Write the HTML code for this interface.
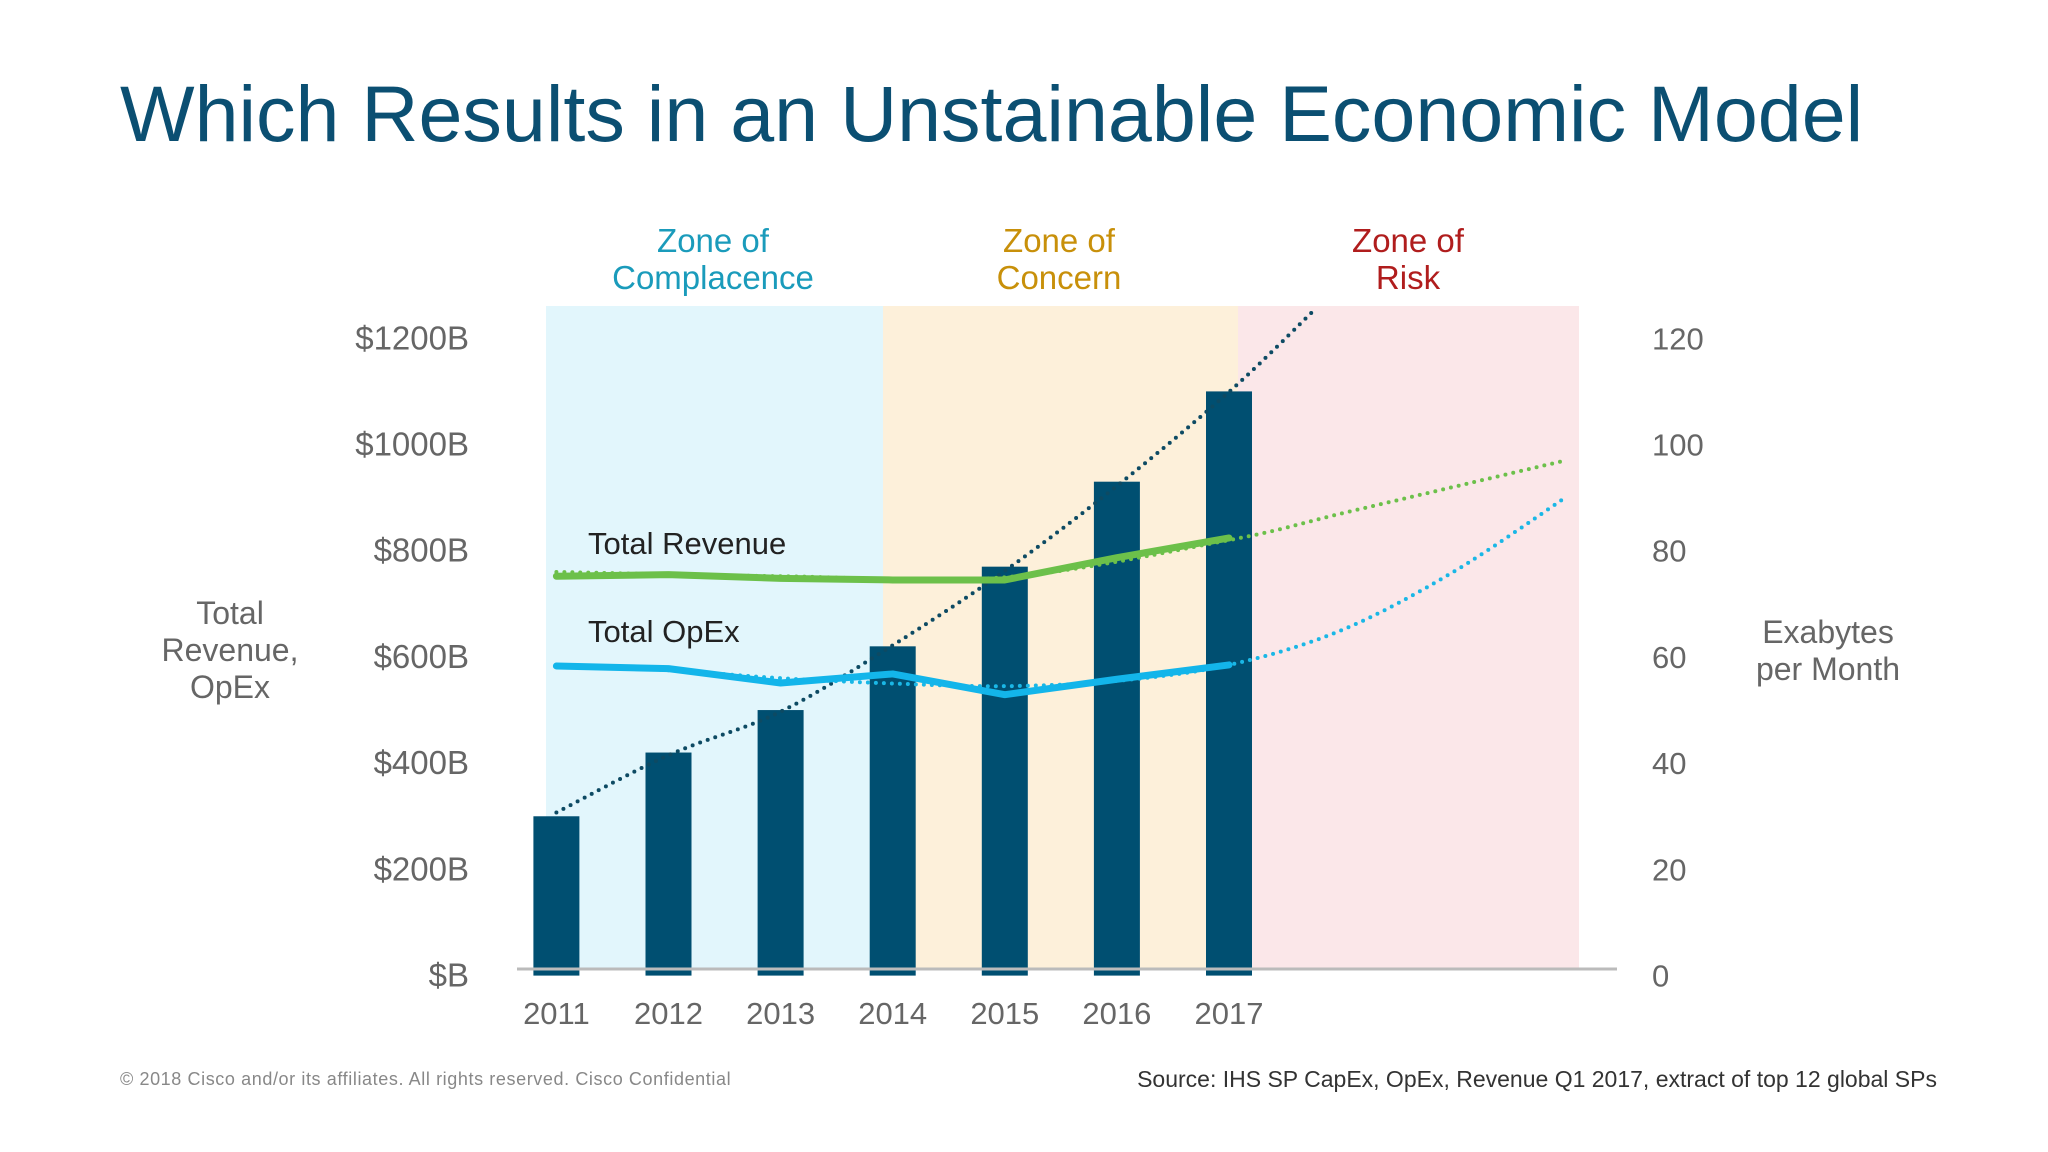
<!DOCTYPE html>
<html><head><meta charset="utf-8"><style>
html,body{margin:0;padding:0;background:#fff}
svg{display:block}
</style></head><body>
<svg id="chart" width="2048" height="1152" viewBox="0 0 2048 1152" xmlns="http://www.w3.org/2000/svg" font-family="Liberation Sans, Arial, sans-serif">
<rect x="0" y="0" width="2048" height="1152" fill="#fff"/>
<text x="120" y="141" font-size="79" fill="#0b4f72">Which Results in an Unstainable Economic Model</text>
<rect x="546" y="306" width="337" height="663" fill="#e2f6fc"/>
<rect x="883" y="306" width="355" height="663" fill="#fdf0da"/>
<rect x="1238" y="306" width="341" height="663" fill="#fbe7e9"/>
<g font-size="33" text-anchor="middle">
<text x="713" y="252" fill="#1a9bbb"><tspan x="713">Zone of</tspan><tspan x="713" dy="37">Complacence</tspan></text>
<text x="1059" y="252" fill="#c8900a"><tspan x="1059">Zone of</tspan><tspan x="1059" dy="37">Concern</tspan></text>
<text x="1408" y="252" fill="#b01d1d"><tspan x="1408">Zone of</tspan><tspan x="1408" dy="37">Risk</tspan></text>
</g>
<g font-size="32" fill="#666" text-anchor="middle">
<text x="230" y="624"><tspan x="230">Total</tspan><tspan x="230" dy="37">Revenue,</tspan><tspan x="230" dy="37">OpEx</tspan></text>
<text x="1828" y="643"><tspan x="1828">Exabytes</tspan><tspan x="1828" dy="37">per Month</tspan></text>
</g>
<g id="plot"></g>
<text x="588" y="554" font-size="31" fill="#222">Total Revenue</text>
<text x="588" y="642" font-size="31" fill="#222">Total OpEx</text>
<text x="120" y="1085" font-size="18" letter-spacing="0.6" fill="#888">© 2018  Cisco and/or its affiliates. All rights reserved.   Cisco Confidential</text>
<text x="1937" y="1087" font-size="23" fill="#333" text-anchor="end">Source: IHS SP CapEx, OpEx, Revenue Q1 2017, extract of top 12 global SPs</text>
</svg>
<script>
const years = [2011, 2012, 2013, 2014, 2015, 2016, 2017];
const trafficBars = [300, 420, 500, 620, 770, 930, 1100];
const revenue = [752, 755, 748, 745, 745, 787, 824];
const opex = [583, 578, 551, 568, 529, 558, 585];
const revenueTrendYears = [2011, 2013, 2015, 2017, 2018, 2019, 2020];
const revenueTrend = [760, 752, 750, 820, 870, 920, 970];
const opexTrendYears = [2011, 2012, 2013, 2014, 2015, 2016, 2017, 2018, 2019, 2020];
const opexTrend = [585, 575, 560, 550, 545, 555, 585, 650, 760, 900];
const trafficTrendYears = [2011, 2012, 2013, 2014, 2015, 2016, 2017, 2017.75];
const trafficTrend = [307, 415, 497, 622, 762, 922, 1099, 1251];
const leftTicks = ["$B", "$200B", "$400B", "$600B", "$800B", "$1000B", "$1200B"];
const rightTicks = ["0", "20", "40", "60", "80", "100", "120"];

const NS = "http://www.w3.org/2000/svg";
const plot = document.getElementById('plot');
const X = yr => 556.4 + (yr - 2011) * 112.1;
const Y = v => 975.6 - v * (975.6 - 338.3) / 1200;
function mk(tag, attrs) { const e = document.createElementNS(NS, tag); for (const k in attrs) e.setAttribute(k, attrs[k]); plot.appendChild(e); return e; }
function smooth(xs, vs) {
  const p = xs.map((x, i) => [X(x), Y(vs[i])]);
  let d = `M${p[0][0]},${p[0][1]}`;
  for (let i = 0; i < p.length - 1; i++) {
    const p0 = p[i - 1] || p[i], p1 = p[i], p2 = p[i + 1], p3 = p[i + 2] || p2;
    const c1 = [p1[0] + (p2[0] - p0[0]) / 6, p1[1] + (p2[1] - p0[1]) / 6];
    const c2 = [p2[0] - (p3[0] - p1[0]) / 6, p2[1] - (p3[1] - p1[1]) / 6];
    d += ` C${c1[0]},${c1[1]} ${c2[0]},${c2[1]} ${p2[0]},${p2[1]}`;
  }
  return d;
}
function poly(xs, vs) { return xs.map((x, i) => (i ? 'L' : 'M') + X(x) + ',' + Y(vs[i])).join(' '); }

leftTicks.forEach((t, i) => {
  const e = mk('text', { x: 469, y: Y(i * 200) + 11, 'font-size': 33, fill: '#666', 'text-anchor': 'end' });
  e.textContent = t;
  
  
});
rightTicks.forEach((t, i) => {
  const e = mk('text', { x: 1652, y: Y(i * 200) + 11, 'font-size': 31, fill: '#666' });
  e.textContent = t;
  
  
});
years.forEach((yr, i) => {
  const b = mk('rect', { x: X(yr) - 23, y: Y(trafficBars[i]), width: 46, height: Y(0) - Y(trafficBars[i]), fill: '#004f71' });
  
  
  const t = mk('text', { x: X(yr), y: 1024, 'font-size': 31, fill: '#666', 'text-anchor': 'middle' });
  t.textContent = yr;
  
  
});
const ax = mk('line', { x1: 517, y1: 969, x2: 1617, y2: 969, stroke: '#bbb', 'stroke-width': 3 });



const tt = mk('path', { d: smooth(trafficTrendYears, trafficTrend), fill: 'none', stroke: '#0d4a63', 'stroke-width': 4, 'stroke-dasharray': '0 8', 'stroke-linecap': 'round' });


const rt = mk('path', { d: smooth(revenueTrendYears, revenueTrend), fill: 'none', stroke: '#6cc04a', 'stroke-width': 4, 'stroke-dasharray': '0 8', 'stroke-linecap': 'round' });


const ot = mk('path', { d: smooth(opexTrendYears, opexTrend), fill: 'none', stroke: '#1ab7e6', 'stroke-width': 4, 'stroke-dasharray': '0 8', 'stroke-linecap': 'round' });


const rl = mk('path', { d: poly(years, revenue), fill: 'none', stroke: '#6cc04a', 'stroke-width': 7, 'stroke-linejoin': 'round', 'stroke-linecap': 'round' });


const ol = mk('path', { d: poly(years, opex), fill: 'none', stroke: '#13b5ea', 'stroke-width': 7, 'stroke-linejoin': 'round', 'stroke-linecap': 'round' });


</script>
</body></html>
